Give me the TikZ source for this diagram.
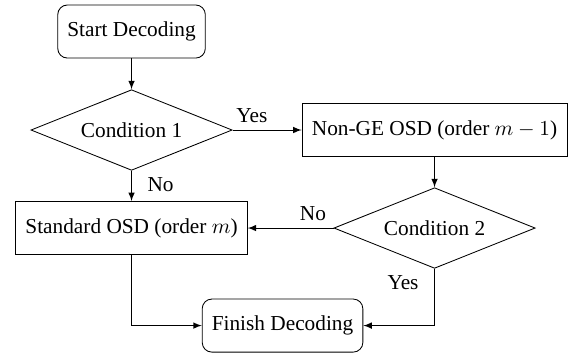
\documentclass[tikz,border=0pt]{standalone}
\usepackage{fontspec}
\setmainfont{Liberation Serif}
\usepackage{amsmath}
\usetikzlibrary{arrows,shapes.geometric}
\usetikzlibrary{positioning}
\tikzstyle{terminal}=[rectangle, rounded corners=4.5pt, draw=black, minimum height=8.75mm, inner xsep=4.5pt]
\tikzstyle{process}=[rectangle, draw=black, minimum height=8.75mm, inner xsep=4.5pt]
\tikzstyle{decision}=[diamond, aspect=2.5, draw=black, minimum width=33.2mm, minimum height=13.3mm, inner sep=1pt]
\tikzset{>=latex}

\begin{document}
\begin{tikzpicture}
      \useasboundingbox (0, 0) rectangle (9.42, 5.874);

      \draw node at (2.17, 5.354) [terminal] (start) {Start Decoding};
      \draw node at (2.17, 3.729) [decision] (cond1) {Condition 1};
      \draw node at (7.169, 3.729) [process, minimum width=43.7mm] (nonge) {Non-GE OSD (order $m-1$)};
      \draw node at (7.169, 2.112) [decision] (cond2) {Condition 2};
      \draw node at (2.17, 2.112) [process] (std) {Standard OSD (order $m$)};
      \draw node at (4.661, 0.503) [terminal] (finish) {Finish Decoding};

      \draw [->] (start) to (cond1);
      \draw [->] (cond1) to node [above, pos=0.28] {Yes} (nonge);
      \draw [->] (cond1) to node [right, pos=0.45, xshift=4pt] {No} (std);
      \draw [->] (nonge) to (cond2);
      \draw [->] (cond2) to node [above, pos=0.24] {No} (std);
      \draw [->] (cond2.south) |- node [left, pos=0.12, xshift=-4pt] {Yes} (finish.east);
      \draw [->] (std.south) |- (finish.west);
    \end{tikzpicture}
\end{document}
